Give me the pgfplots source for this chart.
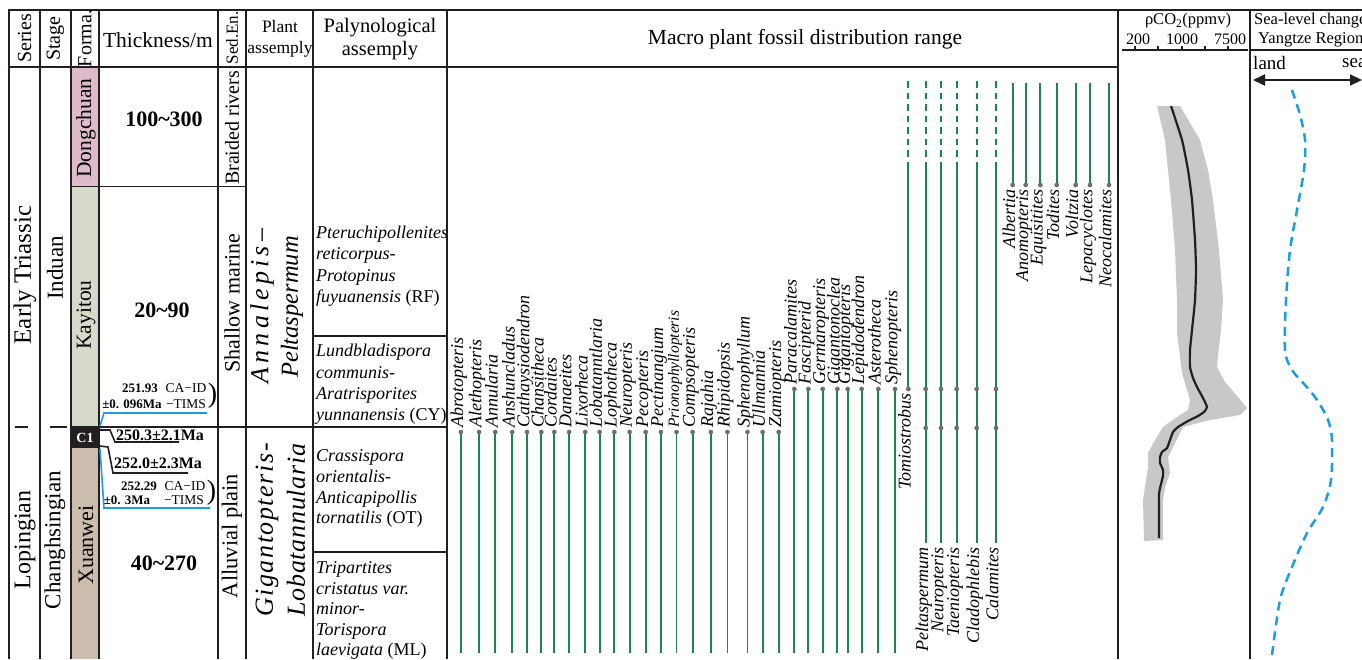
\documentclass[border=0pt]{standalone}
\usepackage{pgfplots}
\pgfplotsset{compat=1.18}
\usepackage{fontspec}
\setmainfont{Liberation Serif}
\usetikzlibrary{arrows.meta}
\definecolor{frame}{RGB}{35,31,32}
\definecolor{fgreen}{RGB}{30,132,80}
\definecolor{dotgray}{RGB}{110,110,110}
\definecolor{dong}{RGB}{222,187,202}
\definecolor{kay}{RGB}{214,218,203}
\definecolor{xuan}{RGB}{202,189,173}
\definecolor{sblue}{RGB}{27,157,222}
\definecolor{band}{RGB}{200,200,200}
\newcommand\fs[1]{\fontsize{#1}{#1}\selectfont}
\newcommand\tlab[3]{\node[rotate=90,anchor=mid west,inner sep=0pt,font={\fs{18}\itshape}] at (axis cs:#1,#2) {#3};}
\newcommand\blab[3]{\node[rotate=90,anchor=mid east,inner sep=0pt,font={\fs{18}\itshape}] at (axis cs:#1,#2) {#3};}
\newcommand\rot[4]{\node[rotate=90,inner sep=0pt,font={\fs{#3}}] at (axis cs:#1,#2) {#4};}
\newcommand\txt[4]{\node[inner sep=0pt,font={\fs{#3}}] at (axis cs:#1,#2) {#4};}
\newcommand\pal[2]{\node[anchor=base west,inner sep=0pt,font={\fs{18}}] at (axis cs:316,#1) {#2};}
\begin{document}
\begin{tikzpicture}
\begin{axis}[width=1362pt,height=659pt,scale only axis,xmin=0,xmax=1362,ymin=0,ymax=659,
  y dir=reverse,hide axis,clip=false]
% formation fills
\fill[dong] (axis cs:71,67) rectangle (axis cs:99,186.5);
\fill[kay] (axis cs:71,186.5) rectangle (axis cs:99,427);
\fill[frame] (axis cs:71,427) rectangle (axis cs:99,448);
\fill[xuan] (axis cs:71,448) rectangle (axis cs:99,659);
\node[inner sep=0pt,text=white,font={\fs{14}\bfseries}] at (axis cs:85,437.5) {C1};
% CO2 band and curve
\addplot[fill=band,draw=none] coordinates {(1157,106) (1180,106) (1200,140) (1208,170) (1213,200) (1219,250) (1223,300) (1221,330) (1218,355) (1217,367) (1225,382) (1238,397) (1247,408) (1240,415) (1210,420) (1183,427) (1178,437) (1175,443) (1168,457) (1170,473) (1165,487) (1163,500) (1163,540) (1144,541) (1143,500) (1145,487) (1148,467) (1148,453) (1155,440) (1163,427) (1177,417) (1188,410) (1190,400) (1182,373) (1177,333) (1177,300) (1175,250) (1171,200) (1165,140)} -- cycle;
\addplot[frame,line width=2.2pt,smooth,tension=0.3] coordinates {(1171,106) (1182,140) (1188,170) (1192,200) (1195,240) (1196,270) (1195,300) (1192,330) (1190,350) (1190,367) (1193,378) (1197,387) (1203,398) (1207,407) (1204,412) (1198,416) (1188,421) (1178,427) (1173,432) (1170,440) (1167,448) (1162,452) (1160,457) (1160,463) (1163,470) (1163,476) (1161,484) (1159,495) (1159,538)};
% sea level
\addplot[sblue,line width=2.5pt,dash pattern=on 9pt off 6pt,smooth,tension=0.5] coordinates {(1292,90) (1300,115) (1305,140) (1304,170) (1297,210) (1290,250) (1286,300) (1285,350) (1292,370) (1305,385) (1317,400) (1328,420) (1332,440) (1331,480) (1323,507) (1307,533) (1292,567) (1280,600) (1272,655)};
% frame lines
\pgfplotsinvokeforeach{9,40,71,99,218,246,313,447,1118,1250}{\draw[frame,line width=1.8pt] (axis cs:#1,10) -- (axis cs:#1,659);}
\draw[frame,line width=1.8pt] (axis cs:8,10) -- (axis cs:1362,10);
\draw[frame,line width=1.8pt] (axis cs:9,67) -- (axis cs:1118,67);
\draw[frame,line width=1.8pt] (axis cs:71,186.5) -- (axis cs:246,186.5);
\draw[frame,line width=1.8pt] (axis cs:71,427) -- (axis cs:447,427);
\draw[frame,line width=1.8pt] (axis cs:15,427) -- (axis cs:28,427);
\draw[frame,line width=1.8pt] (axis cs:50,427) -- (axis cs:67,427);
\draw[frame,line width=1.8pt] (axis cs:313,336) -- (axis cs:447,336);
\draw[frame,line width=1.8pt] (axis cs:313,552) -- (axis cs:447,552);
\draw[frame,line width=1.5pt] (axis cs:1122,50) -- (axis cs:1248,50);
\pgfplotsinvokeforeach{1135,1158,1182,1205,1228}{\draw[frame,line width=1.2pt] (axis cs:#1,50) -- (axis cs:#1,45.5);}
\draw[frame,line width=1.5pt] (axis cs:1250,50) -- (axis cs:1362,50);
\draw[frame,line width=2pt,{Triangle[length=12pt,width=11pt]}-{Triangle[length=12pt,width=11pt]}] (axis cs:1253,80) -- (axis cs:1362,80);
% headers
\rot{24.5}{38.5}{20}{Series}
\rot{55.5}{38.5}{20}{Stage}
\rot{85}{38.5}{20}{Forma.}
\txt{158}{40}{21.5}{Thickness/m}
\rot{232}{38}{17}{Sed.En.}
\txt{280}{27}{17.5}{Plant}
\txt{280}{49}{17.5}{assemply}
\txt{380}{28}{20.5}{Palynological}
\txt{380}{51}{20.5}{assemply}
\txt{805}{39}{21.5}{Macro plant fossil distribution range}
\txt{1188}{21}{16.5}{ρCO\textsubscript{2}(ppmv)}
\txt{1138}{39}{16}{200}
\txt{1182}{39}{16}{1000}
\txt{1230}{39}{16}{7500}
\node[anchor=west,inner sep=0pt,font={\fs{16.5}}] at (axis cs:1254,21) {Sea-level change};
\node[anchor=west,inner sep=0pt,font={\fs{16.5}}] at (axis cs:1258,40) {Yangtze Region};
\node[anchor=west,inner sep=0pt,font={\fs{19}}] at (axis cs:1253,63) {land};
\node[anchor=west,inner sep=0pt,font={\fs{19}}] at (axis cs:1342,63) {sea};
% left columns
\rot{25}{275}{25}{Early Triassic}
\rot{25}{540}{24}{Lopingian}
\rot{55}{268}{23}{Induan}
\rot{55}{540}{23}{Changhsingian}
\rot{86}{128}{21.5}{Dongchuan}
\rot{86}{315}{21.5}{Kayitou}
\rot{86}{545}{22}{Xuanwei}
\node[inner sep=0pt,font={\fs{22}\bfseries}] at (axis cs:164,119) {100\textasciitilde300};
\node[inner sep=0pt,font={\fs{22}\bfseries}] at (axis cs:162,310) {20\textasciitilde90};
\node[inner sep=0pt,font={\fs{22}\bfseries}] at (axis cs:164,563) {40\textasciitilde270};
\rot{232}{128}{20}{Braided rivers}
\rot{232}{303}{22}{Shallow marine}
\rot{232}{536}{22.5}{Alluvial plain}
\node[rotate=90,inner sep=0pt,font={\fs{26}\itshape\addfontfeatures{LetterSpace=16}}] at (axis cs:262,306) {Annalepis–};
\node[rotate=90,inner sep=0pt,font={\fs{24.5}\itshape}] at (axis cs:292,307) {Peltaspermum};
\node[rotate=90,inner sep=0pt,font={\fs{26}\itshape\addfontfeatures{LetterSpace=6}}] at (axis cs:267,530) {Gigantopteris-};
\node[rotate=90,inner sep=0pt,font={\fs{26}\itshape\addfontfeatures{LetterSpace=3}}] at (axis cs:296,530) {Lobatannularia};
% dates
\draw[sblue,line width=1.6pt] (axis cs:100,426) -- (axis cs:104,413) -- (axis cs:207,413);
\draw[frame,line width=1.6pt] (axis cs:100,430) -- (axis cs:110,430) -- (axis cs:115,442) -- (axis cs:179,442);
\draw[frame,line width=1.6pt] (axis cs:100,446) -- (axis cs:108,447) -- (axis cs:113,473) -- (axis cs:188,473);
\draw[sblue,line width=1.6pt] (axis cs:100,449) -- (axis cs:104,508) -- (axis cs:210,508);
\node[inner sep=0pt,font={\fs{13}\bfseries}] at (axis cs:140,388) {251.93};
\node[inner sep=0pt,font={\fs{13.5}}] at (axis cs:186,388) {CA−ID};
\node[inner sep=0pt,font={\fs{13}\bfseries}] at (axis cs:132,404) {±0. 096Ma};
\node[inner sep=0pt,font={\fs{13.5}}] at (axis cs:186,404) {−TIMS};
\node[inner sep=0pt,font={\fs{28}}] at (axis cs:212.5,396) {)};
\node[inner sep=0pt,font={\fs{16}\bfseries}] at (axis cs:160,435) {250.3±2.1Ma};
\node[inner sep=0pt,font={\fs{16}\bfseries}] at (axis cs:158,463) {252.0±2.3Ma};
\node[inner sep=0pt,font={\fs{13}\bfseries}] at (axis cs:139,486) {252.29};
\node[inner sep=0pt,font={\fs{13.5}}] at (axis cs:185,486) {CA−ID};
\node[inner sep=0pt,font={\fs{13}\bfseries}] at (axis cs:127,500) {±0. 3Ma};
\node[inner sep=0pt,font={\fs{13.5}}] at (axis cs:184,500) {−TIMS};
\node[inner sep=0pt,font={\fs{28}}] at (axis cs:211.5,493) {)};
% palynology
\pal{238}{\itshape Pteruchipollenites}
\pal{259.5}{\itshape reticorpus-}
\pal{281}{\itshape Protopinus}
\pal{302.5}{{\itshape fuyuanensis} (RF)}
\pal{356}{\itshape Lundbladispora}
\pal{378}{\itshape communis-}
\pal{399}{\itshape Aratrisporites}
\pal{420.5}{{\itshape yunnanensis} (CY)}
\pal{461}{\itshape Crassispora}
\pal{482}{\itshape orientalis-}
\pal{503}{\itshape Anticapipollis}
\pal{523.5}{{\itshape tornatilis} (OT)}
\pal{573}{\itshape Tripartites}
\pal{594}{\itshape cristatus var.}
\pal{614}{\itshape minor-}
\pal{635}{\itshape Torispora}
\pal{655}{{\itshape laevigata} (ML)}
% fossil ranges: Permian group 1
\pgfplotsinvokeforeach{460.9,479.1,495.2,512.2,527.0,541.3,554.3,569.1,585.2,599.6,614.3,629.6,645.7,660.9,676.5,692.6,710.9,727.4,747.4,762.6,778.7}{\addplot[fgreen,line width=1.8pt] coordinates {(#1,432) (#1,653)};}
% group 2
\pgfplotsinvokeforeach{794.3,808.3,822.7,837.3,847.7,861.7,878.3,895.0}{\addplot[fgreen,line width=1.8pt] coordinates {(#1,389) (#1,653)};}
% Tomiostrobus + crossing group: dashed tops
\pgfplotsinvokeforeach{908.3,925.7,941.0,956.7,976.7,996.0}{\addplot[fgreen,line width=1.8pt,dash pattern=on 6.5pt off 5pt] coordinates {(#1,81) (#1,157)};}
\addplot[fgreen,line width=1.8pt] coordinates {(908.3,162) (908.3,389)};
\pgfplotsinvokeforeach{925.7,941.0,956.7,976.7,996.0}{\addplot[fgreen,line width=1.8pt] coordinates {(#1,162) (#1,543)};}
% Triassic group
\pgfplotsinvokeforeach{1012.7,1025.7,1040.3,1056.7,1075.7,1090.0,1109.0}{\addplot[fgreen,line width=1.8pt] coordinates {(#1,83) (#1,185)};}
% dots
\addplot[only marks,mark=*,mark size=2.1pt,dotgray,mark options={draw=dotgray,fill=dotgray}] coordinates {
(460.9,432) (479.1,432) (495.2,432) (512.2,432) (527.0,432) (541.3,432) (554.3,432) (569.1,432) (585.2,432) (599.6,432) (614.3,432) (629.6,432) (645.7,432) (660.9,432) (676.5,432) (692.6,432) (710.9,432) (727.4,432) (747.4,432) (762.6,432) (778.7,432)
(794.3,389) (808.3,389) (822.7,389) (837.3,389) (847.7,389) (861.7,389) (878.3,389) (895.0,389)
(908.3,389) (925.7,389) (941.0,389) (956.7,389) (976.7,389) (996.0,389)
(925.7,428) (941.0,428) (956.7,428) (976.7,428) (996.0,428)
(1012.7,185) (1025.7,185) (1040.3,185) (1056.7,185) (1075.7,185) (1090.0,185) (1109.0,185)};
% labels group 1
\tlab{460.9}{428}{Abrotopteris}
\tlab{479.1}{428}{Alethopteris}
\tlab{495.2}{428}{Annularia}
\tlab{512.2}{428}{Anshuncladus}
\tlab{527.0}{428}{Cathaysiodendron}
\tlab{541.3}{428}{Chansitheca}
\tlab{554.3}{428}{Cordaites}
\tlab{569.1}{428}{Danaeites}
\tlab{585.2}{428}{Lixorheca}
\tlab{599.6}{428}{Lobatanntlaria}
\tlab{614.3}{428}{Lophotheca}
\tlab{629.6}{428}{Neuropteris}
\tlab{645.7}{428}{Pecopteris}
\tlab{660.9}{428}{Pectinangium}
\node[rotate=90,anchor=mid west,inner sep=0pt,font={\fs{15.5}\itshape}] at (axis cs:676.5,428) {Prionophyllopteris};
\tlab{692.6}{428}{Compsopteris}
\tlab{710.9}{428}{Rajahia}
\tlab{727.4}{428}{Rhipidopsis}
\tlab{747.4}{428}{Sphenophyllum}
\tlab{762.6}{428}{Ullmannia}
\tlab{778.7}{428}{Zamiopteris}
% labels group 2
\tlab{794.3}{385}{Paracalamites}
\tlab{808.3}{385}{Fascipterid}
\tlab{822.7}{385}{Germaropteris}
\tlab{837.3}{385}{Gigantonoclea}
\tlab{847.7}{385}{Gigantopteris}
\tlab{861.7}{385}{Lepidodendron}
\tlab{878.3}{385}{Asterotheca}
\tlab{895.0}{385}{Sphenopteris}
% bottom labels
\blab{908.3}{393}{Tomiostrobus}
\blab{925.7}{547}{Peltaspermum}
\blab{941.0}{547}{Neuropteris}
\blab{956.7}{547}{Taeniopteris}
\blab{976.7}{547}{Cladophlebis}
\blab{996.0}{547}{Calamites}
\blab{1012.7}{189}{Albertia}
\blab{1025.7}{189}{Anomopteris}
\blab{1040.3}{189}{Equisitites}
\blab{1056.7}{189}{Todites}
\blab{1075.7}{189}{Voltzia}
\blab{1090.0}{189}{Lepacyclotes}
\blab{1109.0}{189}{Neocalamites}
\end{axis}
\pgfresetboundingbox
\path (current axis.south west) rectangle (current axis.north east);
\end{tikzpicture}
\end{document}
